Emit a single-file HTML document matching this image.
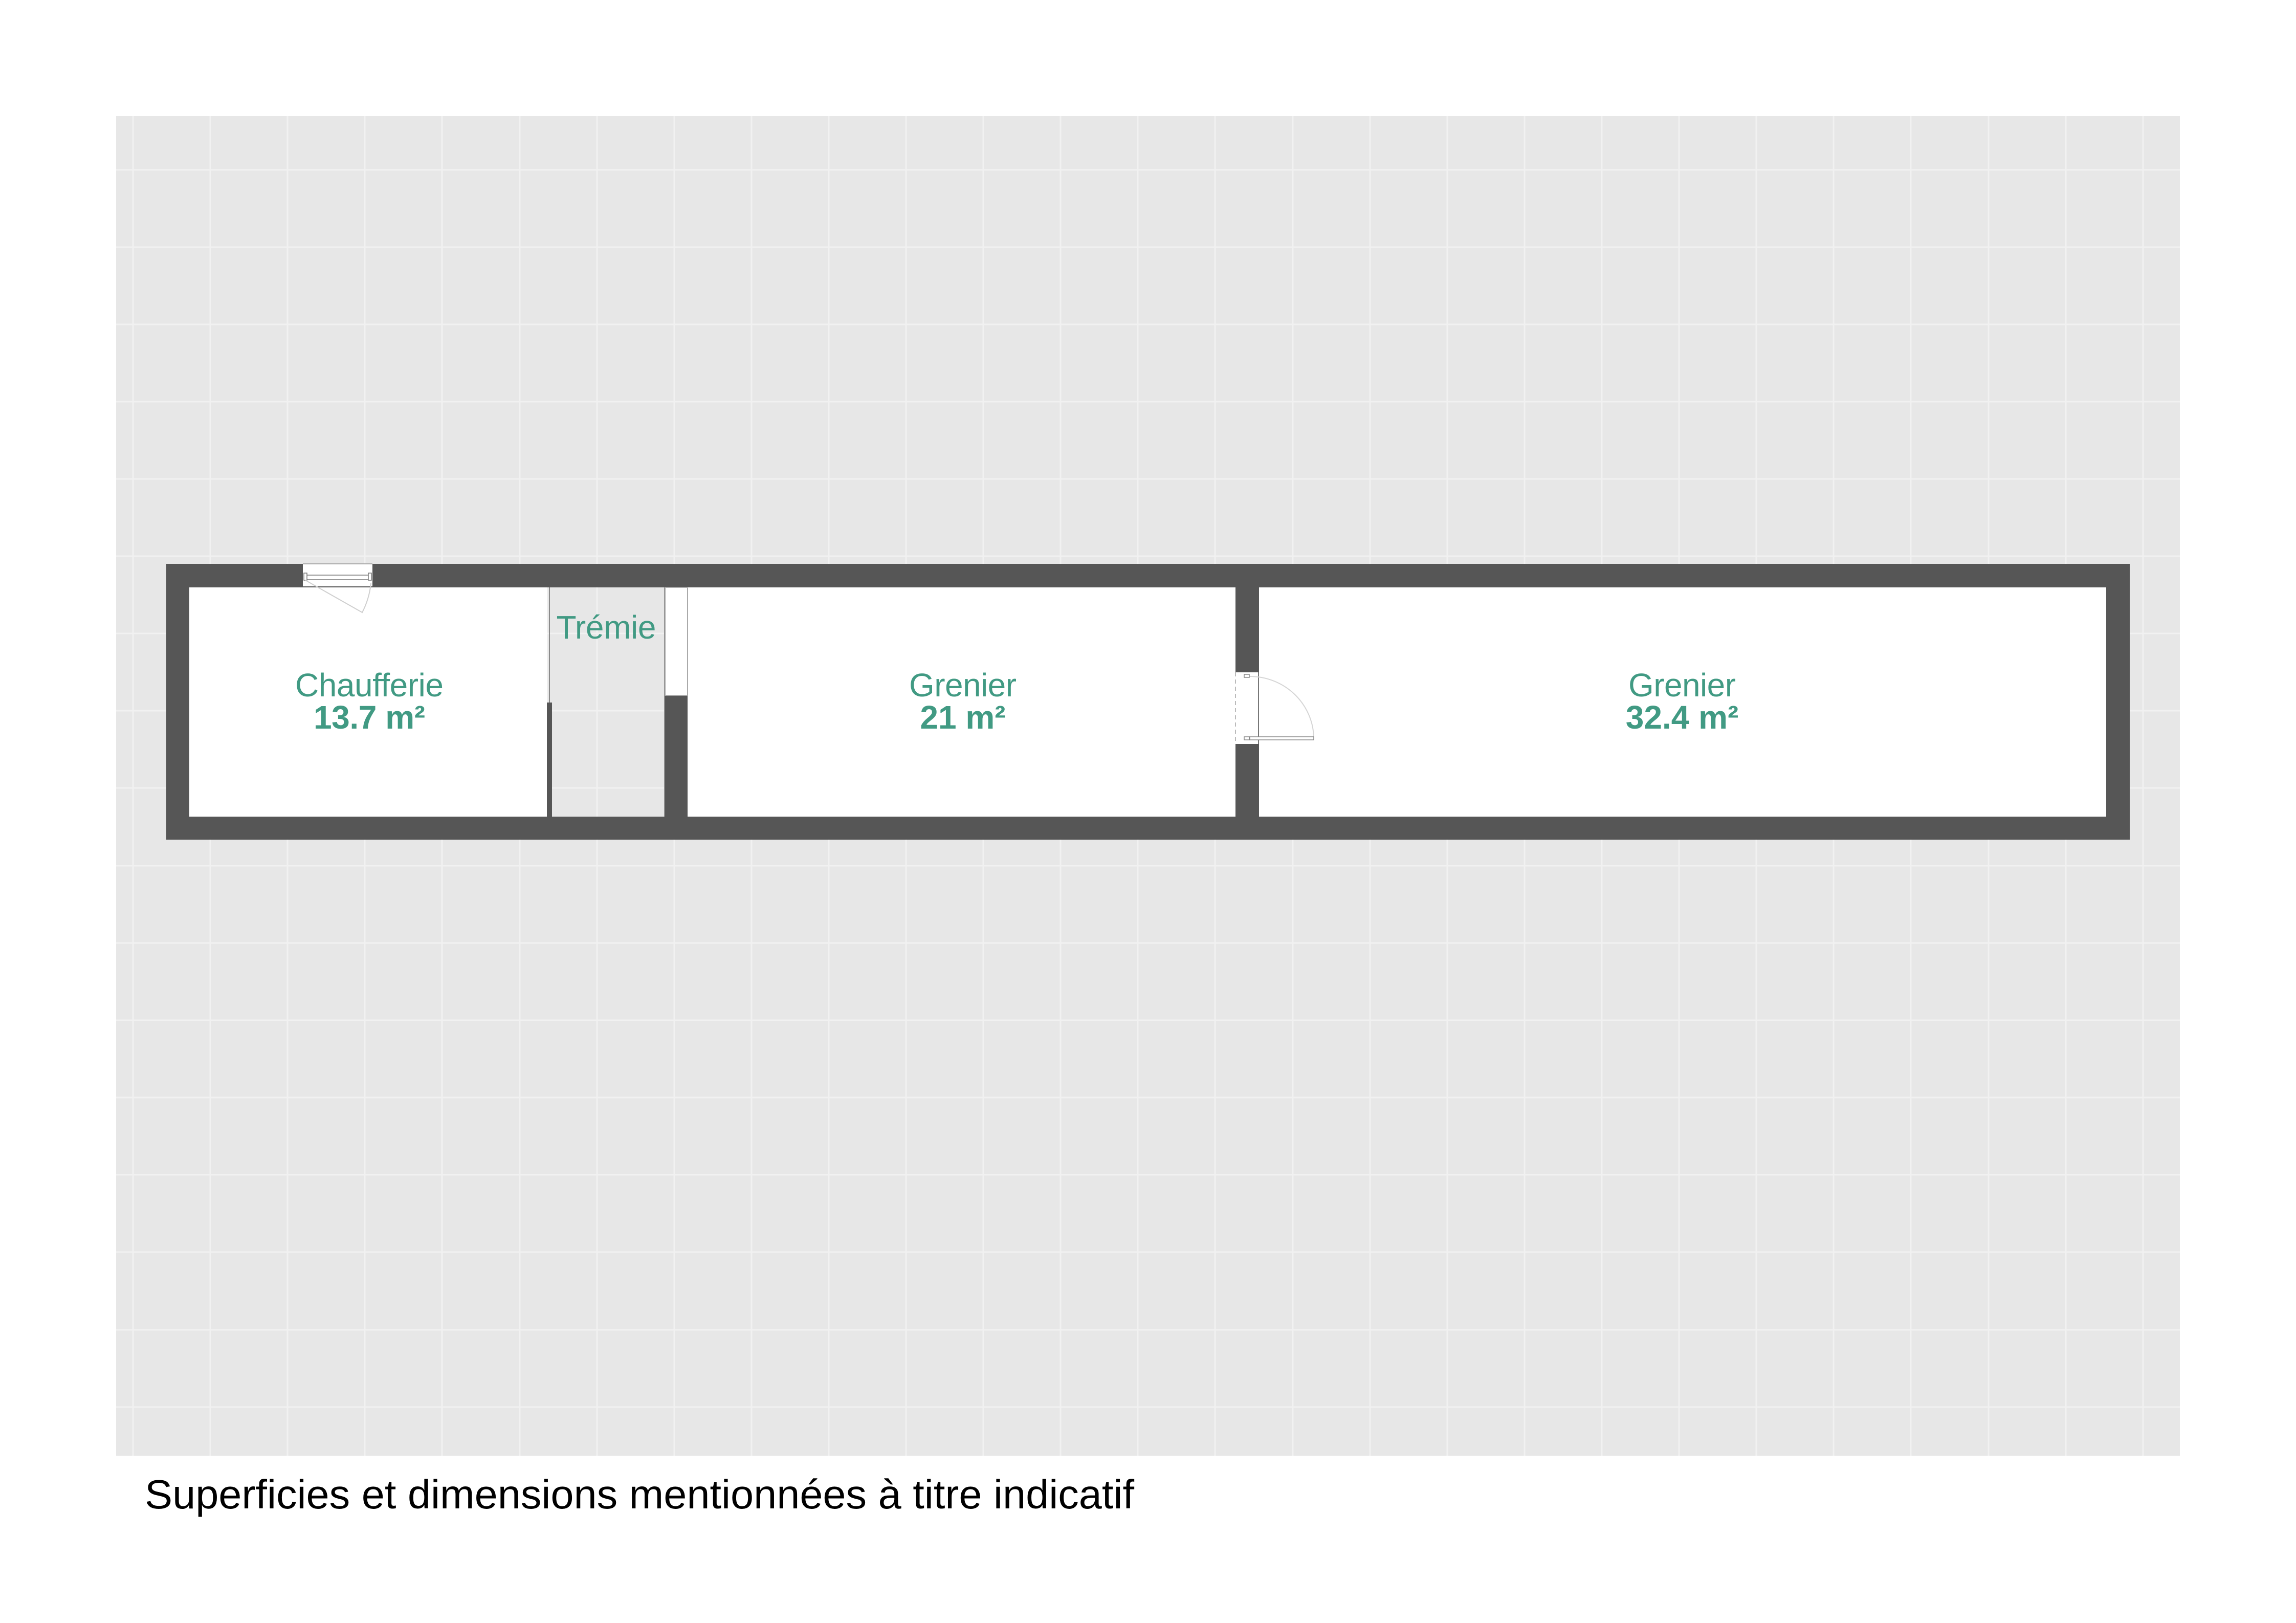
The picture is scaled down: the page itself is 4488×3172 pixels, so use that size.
<!DOCTYPE html>
<html><head><meta charset="utf-8"><style>
html,body{margin:0;padding:0;background:#fff;}
svg{display:block;}
</style></head><body>
<svg width="4488" height="3172" viewBox="0 0 4488 3172" xmlns="http://www.w3.org/2000/svg">
<rect x="0" y="0" width="4488" height="3172" fill="#ffffff"/>
<rect x="227" y="227" width="4034" height="2618" fill="#e7e7e7"/>
<g stroke="#f1f1f1" stroke-width="3">
<line x1="227" y1="332" x2="4261" y2="332"/><line x1="227" y1="483" x2="4261" y2="483"/><line x1="227" y1="634" x2="4261" y2="634"/><line x1="227" y1="785" x2="4261" y2="785"/><line x1="227" y1="936" x2="4261" y2="936"/><line x1="227" y1="1087" x2="4261" y2="1087"/><line x1="227" y1="1238" x2="4261" y2="1238"/><line x1="227" y1="1389" x2="4261" y2="1389"/><line x1="227" y1="1540" x2="4261" y2="1540"/><line x1="227" y1="1692" x2="4261" y2="1692"/><line x1="227" y1="1843" x2="4261" y2="1843"/><line x1="227" y1="1994" x2="4261" y2="1994"/><line x1="227" y1="2145" x2="4261" y2="2145"/><line x1="227" y1="2296" x2="4261" y2="2296"/><line x1="227" y1="2447" x2="4261" y2="2447"/><line x1="227" y1="2599" x2="4261" y2="2599"/><line x1="227" y1="2750" x2="4261" y2="2750"/>
<line x1="260" y1="227" x2="260" y2="2845"/><line x1="411" y1="227" x2="411" y2="2845"/><line x1="562" y1="227" x2="562" y2="2845"/><line x1="713" y1="227" x2="713" y2="2845"/><line x1="864" y1="227" x2="864" y2="2845"/><line x1="1016" y1="227" x2="1016" y2="2845"/><line x1="1167" y1="227" x2="1167" y2="2845"/><line x1="1318" y1="227" x2="1318" y2="2845"/><line x1="1469" y1="227" x2="1469" y2="2845"/><line x1="1620" y1="227" x2="1620" y2="2845"/><line x1="1771" y1="227" x2="1771" y2="2845"/><line x1="1922" y1="227" x2="1922" y2="2845"/><line x1="2073" y1="227" x2="2073" y2="2845"/><line x1="2224" y1="227" x2="2224" y2="2845"/><line x1="2375" y1="227" x2="2375" y2="2845"/><line x1="2527" y1="227" x2="2527" y2="2845"/><line x1="2678" y1="227" x2="2678" y2="2845"/><line x1="2829" y1="227" x2="2829" y2="2845"/><line x1="2980" y1="227" x2="2980" y2="2845"/><line x1="3131" y1="227" x2="3131" y2="2845"/><line x1="3282" y1="227" x2="3282" y2="2845"/><line x1="3433" y1="227" x2="3433" y2="2845"/><line x1="3584" y1="227" x2="3584" y2="2845"/><line x1="3735" y1="227" x2="3735" y2="2845"/><line x1="3887" y1="227" x2="3887" y2="2845"/><line x1="4038" y1="227" x2="4038" y2="2845"/><line x1="4189" y1="227" x2="4189" y2="2845"/>
</g>
<!-- rooms -->
<rect x="370" y="1148" width="700" height="448" fill="#fff"/>
<rect x="1344" y="1148" width="1071" height="448" fill="#fff"/>
<rect x="2461" y="1148" width="1656" height="448" fill="#fff"/>
<!-- walls -->
<g fill="#565656">
<rect x="325" y="1102" width="3838" height="46"/>
<rect x="325" y="1596" width="3838" height="45"/>
<rect x="325" y="1102" width="45" height="539"/>
<rect x="4117" y="1102" width="46" height="539"/>
<rect x="1299" y="1148" width="45" height="448"/>
<rect x="2415" y="1148" width="46" height="448"/>
<rect x="1069" y="1373" width="10" height="223"/>
</g>
<line x1="1074" y1="1148" x2="1074" y2="1373" stroke="#8a8a8a" stroke-width="2"/>
<line x1="1299" y1="1148" x2="1299" y2="1596" stroke="#8a8a8a" stroke-width="2"/>
<!-- opening trémie/grenier -->
<rect x="1300" y="1148" width="44" height="211" fill="#fff" stroke="#aaa" stroke-width="2"/>
<!-- window chaufferie -->
<rect x="592" y="1102" width="136" height="44" fill="#fff"/>
<line x1="592" y1="1102" x2="728" y2="1102" stroke="#aaa" stroke-width="2"/>
<rect x="596" y="1124" width="128" height="9" fill="#fff" stroke="#777" stroke-width="1.5"/>
<rect x="594" y="1120" width="6" height="14" fill="#fff" stroke="#777" stroke-width="1.5"/>
<rect x="720" y="1120" width="6" height="14" fill="#fff" stroke="#777" stroke-width="1.5"/>
<path d="M597 1134 L708 1197 Q722 1170 725 1140" fill="none" stroke="#cfcfcf" stroke-width="2"/>
<!-- door middle -->
<rect x="2415" y="1314" width="46" height="140" fill="#fff"/>
<line x1="2415" y1="1314" x2="2415" y2="1454" stroke="#bbb" stroke-width="2" stroke-dasharray="8,6"/>
<line x1="2460" y1="1314" x2="2460" y2="1454" stroke="#777" stroke-width="2"/>
<path d="M2443 1322 A125 122 0 0 1 2568 1444" fill="none" stroke="#d5d5d5" stroke-width="2"/>
<rect x="2443" y="1440" width="125" height="6" fill="#fff" stroke="#888" stroke-width="1.5"/>
<rect x="2432" y="1318" width="10" height="6" fill="#fff" stroke="#888" stroke-width="1.5"/>
<rect x="2432" y="1440" width="10" height="6" fill="#fff" stroke="#888" stroke-width="1.5"/>
<!-- labels -->
<g fill="#419a83" font-family="'Liberation Sans', Arial, sans-serif" text-anchor="middle">
<text x="722" y="1361" font-size="64" textLength="290">Chaufferie</text>
<text x="722" y="1424" font-size="64" font-weight="bold" textLength="218">13.7 m²</text>
<text x="1185" y="1248" font-size="64" textLength="195">Trémie</text>
<text x="1882" y="1361" font-size="64" textLength="210">Grenier</text>
<text x="1882" y="1424" font-size="64" font-weight="bold">21 m²</text>
<text x="3288" y="1361" font-size="64" textLength="210">Grenier</text>
<text x="3288" y="1424" font-size="64" font-weight="bold">32.4 m²</text>
</g>
<text x="283" y="2948" font-family="'Liberation Sans', Arial, sans-serif" font-size="80" fill="#000" textLength="1934" lengthAdjust="spacingAndGlyphs">Superficies et dimensions mentionnées à titre indicatif</text>
</svg>
</body></html>
